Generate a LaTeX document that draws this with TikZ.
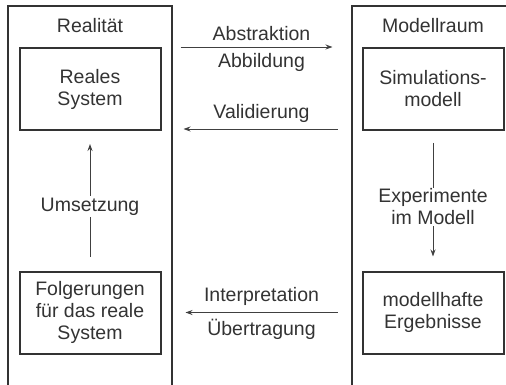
\documentclass[tikz,border=0pt]{standalone}
\usepackage{fontspec}
\setmainfont{Liberation Sans}
\usetikzlibrary{arrows.meta}
\tikzset{
  kasten/.style={draw=black!80, line width=2pt, minimum width=141, minimum height=82, align=center},
  pfeil/.style={draw=black!75, line width=0.9pt, -{Stealth[length=7pt,width=5pt]}},
  schrift/.style={font=\fontsize{19.5}{22}\selectfont, text=black!80}
}
\begin{document}
\begin{tikzpicture}[x=1pt, y=-1pt, schrift]
  \useasboundingbox (0,0) rectangle (506,385);
  % Rahmen Realität und Modellraum
  \draw[line width=2pt, black!80] (8,386) -- (8,6) -- (172,6) -- (172,386);
  \draw[line width=2pt, black!80] (352,386) -- (352,6) -- (507,6);
  \node (realitaet) at (90,26) {Realität};
  \node (modellraum) at (433,26) {Modellraum};
  % Kästen
  \node[kasten] (real) at (90,89) {Reales\\System};
  \node[kasten] (sim) at (433,89) {Simulations-\\modell};
  \node[kasten] (folg) at (90,312.5) {Folgerungen\\für das reale\\System};
  \node[kasten] (ergeb) at (433,312.5) {modellhafte\\Ergebnisse};
  % Pfeile zwischen den Räumen
  \draw[pfeil, shorten <=19pt, shorten >=29pt] (real.north east) -- (sim.north west)
    node[midway, above=3pt] {Abstraktion} node[midway, below=3pt] {Abbildung};
  \draw[pfeil, shorten <=24pt, shorten >=22pt] ([yshift=2pt]sim.south west) -- ([yshift=2pt]real.south east)
    node[midway, above=3pt] {Validierung};
  \draw[pfeil, shorten <=24pt, shorten >=24pt] (ergeb.west) -- (folg.east)
    node[midway, above=3pt] {Interpretation} node[midway, below=3pt] {Übertragung};
  % Pfeile innerhalb der Räume
  \draw[pfeil, shorten <=14pt, shorten >=13pt] (folg.north) -- (real.south)
    node[midway, fill=white, inner sep=2pt, yshift=-6pt] {Umsetzung};
  \draw[pfeil, shorten <=12pt, shorten >=14pt] (sim.south) -- (ergeb.north)
    node[midway, fill=white, inner sep=1pt, align=center, yshift=-6pt] {Experimente\\im Modell};
\end{tikzpicture}
\end{document}
